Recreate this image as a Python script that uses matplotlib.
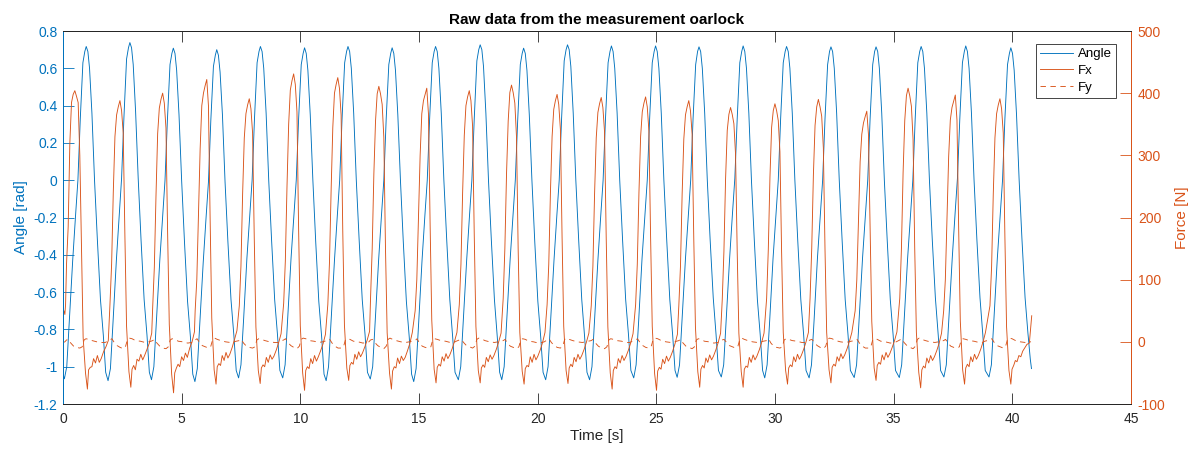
import matplotlib.pyplot as plt

plt.rcParams['font.family'] = ['Liberation Sans', 'DejaVu Sans']
plt.rcParams['axes.unicode_minus'] = False

BLUE = '#0072BD'
ORANGE = '#D95319'
DARK = '#262626'

# --- Angle [rad] ---
# peak time of every stroke, values read at angle_offsets (s) around that peak
angle_peak_t = [0.98, 2.82, 4.65, 6.48, 8.32, 10.18, 12.01, 13.87, 15.70, 17.58, 19.41,
                21.26, 23.11, 24.97, 26.80, 28.66, 30.49, 32.36, 34.26, 36.16, 38.04, 39.94]
angle_offsets = [-0.92, -0.82, -0.71, -0.57, -0.45, -0.35, -0.25, -0.14, -0.06, 0.0,
                 0.07, 0.14, 0.24, 0.35, 0.47, 0.60, 0.72, 0.82]
angle_rows = [
    [-1.065, -1.00, -0.75, -0.43, -0.19, 0.00, 0.33, 0.63, 0.69, 0.717, 0.69, 0.60, 0.36, 0.00, -0.32, -0.64, -0.83, -1.03],
    [-1.075, -1.01, -0.76, -0.43, -0.19, 0.01, 0.34, 0.65, 0.71, 0.738, 0.71, 0.62, 0.37, 0.01, -0.32, -0.64, -0.83, -1.03],
    [-1.070, -1.00, -0.75, -0.43, -0.20, 0.00, 0.32, 0.62, 0.68, 0.708, 0.68, 0.59, 0.35, 0.00, -0.33, -0.65, -0.84, -1.04],
    [-1.080, -1.01, -0.76, -0.44, -0.20, -0.01, 0.32, 0.61, 0.67, 0.700, 0.67, 0.58, 0.35, -0.01, -0.33, -0.64, -0.83, -1.02],
    [-1.060, -0.99, -0.75, -0.42, -0.19, 0.00, 0.33, 0.63, 0.69, 0.717, 0.69, 0.60, 0.36, 0.00, -0.32, -0.64, -0.83, -1.02],
    [-1.060, -0.99, -0.74, -0.42, -0.19, 0.00, 0.33, 0.62, 0.68, 0.710, 0.68, 0.59, 0.35, 0.00, -0.33, -0.65, -0.84, -1.04],
    [-1.075, -1.00, -0.75, -0.43, -0.19, 0.00, 0.33, 0.63, 0.69, 0.717, 0.69, 0.60, 0.36, 0.00, -0.32, -0.64, -0.83, -1.03],
    [-1.066, -1.00, -0.75, -0.43, -0.19, 0.00, 0.33, 0.62, 0.68, 0.710, 0.68, 0.59, 0.35, 0.00, -0.33, -0.65, -0.84, -1.04],
    [-1.080, -1.01, -0.76, -0.43, -0.19, 0.00, 0.33, 0.63, 0.69, 0.717, 0.69, 0.60, 0.36, 0.00, -0.32, -0.64, -0.84, -1.03],
    [-1.070, -1.00, -0.75, -0.43, -0.19, 0.00, 0.33, 0.64, 0.70, 0.726, 0.70, 0.61, 0.36, 0.00, -0.32, -0.64, -0.84, -1.03],
    [-1.070, -1.00, -0.75, -0.43, -0.20, 0.00, 0.32, 0.62, 0.68, 0.708, 0.68, 0.59, 0.35, 0.00, -0.33, -0.65, -0.84, -1.03],
    [-1.070, -1.00, -0.75, -0.43, -0.19, 0.00, 0.33, 0.64, 0.70, 0.726, 0.70, 0.61, 0.36, 0.00, -0.32, -0.64, -0.84, -1.03],
    [-1.070, -1.00, -0.75, -0.43, -0.19, 0.00, 0.33, 0.63, 0.69, 0.720, 0.69, 0.60, 0.36, 0.00, -0.32, -0.64, -0.83, -1.02],
    [-1.060, -0.99, -0.75, -0.42, -0.19, 0.00, 0.33, 0.63, 0.69, 0.720, 0.69, 0.60, 0.36, 0.00, -0.32, -0.64, -0.83, -1.02],
    [-1.057, -0.99, -0.74, -0.42, -0.19, 0.00, 0.33, 0.62, 0.69, 0.715, 0.69, 0.60, 0.36, 0.00, -0.32, -0.63, -0.83, -1.02],
    [-1.055, -0.99, -0.74, -0.42, -0.18, 0.01, 0.33, 0.63, 0.69, 0.720, 0.69, 0.60, 0.36, 0.00, -0.32, -0.64, -0.83, -1.02],
    [-1.060, -0.99, -0.75, -0.42, -0.19, 0.00, 0.33, 0.63, 0.69, 0.717, 0.69, 0.60, 0.36, 0.00, -0.32, -0.64, -0.83, -1.02],
    [-1.060, -0.99, -0.75, -0.42, -0.19, 0.00, 0.33, 0.62, 0.69, 0.715, 0.69, 0.60, 0.36, 0.00, -0.32, -0.64, -0.83, -1.02],
    [-1.058, -0.99, -0.74, -0.42, -0.19, 0.00, 0.33, 0.62, 0.69, 0.715, 0.69, 0.60, 0.36, 0.00, -0.32, -0.64, -0.83, -1.02],
    [-1.058, -0.99, -0.74, -0.42, -0.19, 0.00, 0.33, 0.63, 0.69, 0.717, 0.69, 0.60, 0.36, 0.00, -0.32, -0.63, -0.83, -1.02],
    [-1.055, -0.99, -0.74, -0.42, -0.18, 0.01, 0.33, 0.63, 0.69, 0.720, 0.69, 0.60, 0.36, 0.00, -0.32, -0.63, -0.83, -1.02],
    [-1.055, -0.99, -0.74, -0.42, -0.19, 0.00, 0.33, 0.62, 0.68, 0.710, 0.68, 0.59, 0.35, 0.00, -0.32, -0.63, -0.82, -0.96],
]
angle_head = [(0.0, -1.04)]
angle_tail = [(40.81, -1.01)]

# --- Fx [N] ---
# time of the force minimum of every stroke, values read at fx_offsets (s) around it
fx_min_t = [1.03, 2.86, 4.66, 6.45, 8.31, 10.18, 12.04, 13.84, 15.72, 17.58, 19.43,
            21.28, 23.14, 25.01, 26.83, 28.66, 30.53, 32.36, 34.26, 36.14, 37.99, 39.94]
fx_offsets = [-0.88, -0.81, -0.74, -0.67, -0.60, -0.53, -0.46, -0.39, -0.32, -0.25, -0.18, -0.08,
              0.0, 0.05, 0.12, 0.19, 0.26, 0.34, 0.42, 0.50, 0.58, 0.68, 0.78, 0.88]
fx_rows = [
    [125, 185, 320, 385, 398, 404, 395, 385, 300, 150, 7, -50, -76, -45, -41, -40, -27, -34, -22, -33, -27, -16, -8, 2],
    [60, 125, 240, 330, 365, 378, 388, 372, 335, 170, 25, -48, -73, -44, -38, -45, -28, -31, -20, -29, -22, -12, -2, 14],
    [55, 120, 235, 335, 376, 390, 400, 384, 344, 175, 28, -52, -82, -50, -42, -36, -40, -24, -30, -18, -25, -10, 0, 16],
    [50, 100, 205, 310, 380, 400, 412, 422, 380, 200, 38, -45, -68, -40, -35, -38, -22, -30, -17, -26, -20, -9, 4, 18],
    [58, 122, 238, 328, 367, 381, 391, 375, 336, 168, 24, -46, -67, -42, -37, -40, -25, -33, -21, -28, -23, -13, -1, 13],
    [62, 130, 250, 350, 405, 420, 431, 414, 370, 180, 26, -50, -78, -46, -40, -43, -27, -35, -22, -31, -24, -14, -3, 12],
    [60, 128, 245, 345, 400, 414, 425, 408, 365, 178, 27, -42, -62, -38, -33, -36, -20, -28, -16, -24, -18, -8, 3, 17],
    [70, 150, 270, 355, 399, 411, 399, 382, 329, 150, 15, -50, -76, -47, -40, -42, -26, -35, -23, -30, -25, -14, -2, 15],
    [50, 100, 200, 300, 367, 388, 398, 408, 367, 190, 35, -44, -66, -41, -36, -39, -24, -31, -19, -27, -21, -11, 1, 15],
    [60, 125, 240, 332, 380, 394, 404, 388, 347, 172, 25, -46, -66, -42, -37, -41, -25, -32, -21, -28, -22, -12, 0, 14],
    [70, 150, 270, 355, 401, 413, 401, 384, 330, 150, 15, -47, -68, -43, -38, -40, -24, -33, -20, -29, -23, -13, -1, 15],
    [60, 125, 240, 330, 374, 388, 398, 382, 342, 170, 25, -46, -67, -42, -36, -40, -25, -32, -20, -28, -22, -12, 0, 14],
    [58, 122, 238, 328, 369, 383, 393, 377, 338, 168, 24, -50, -76, -46, -40, -43, -27, -34, -22, -30, -24, -14, -2, 13],
    [60, 125, 240, 330, 370, 384, 394, 378, 339, 170, 25, -51, -78, -47, -41, -44, -28, -35, -23, -31, -25, -15, -3, 12],
    [58, 122, 238, 326, 365, 378, 388, 372, 334, 166, 24, -48, -73, -44, -38, -42, -26, -33, -21, -29, -23, -13, -1, 14],
    [68, 145, 262, 340, 366, 377, 366, 351, 302, 145, 14, -48, -73, -44, -39, -41, -25, -33, -21, -29, -23, -13, -1, 14],
    [70, 148, 265, 345, 372, 383, 372, 356, 306, 146, 15, -46, -68, -42, -37, -40, -24, -32, -20, -28, -22, -12, 0, 15],
    [70, 150, 268, 348, 378, 390, 378, 363, 312, 148, 15, -45, -66, -41, -36, -39, -24, -31, -19, -27, -21, -11, 1, 15],
    [50, 100, 198, 290, 334, 352, 362, 371, 334, 180, 33, -42, -62, -38, -33, -36, -21, -29, -17, -25, -19, -9, 2, 16],
    [70, 150, 272, 356, 396, 408, 396, 379, 326, 150, 15, -49, -74, -45, -39, -42, -26, -34, -22, -30, -24, -14, -2, 14],
    [50, 100, 200, 298, 357, 377, 387, 397, 357, 186, 34, -45, -68, -42, -36, -40, -24, -32, -20, -28, -22, -12, 0, 15],
    [58, 122, 238, 328, 367, 381, 391, 375, 336, 168, 24, -46, -68, -44, -38, -30, -32, -22, -24, -15, -10, -4, -2, 42],
]
fx_head = [(0.0, 40), (0.04, 50), (0.08, 44), (0.11, 60)]

# --- Fy [N] ---
fy_offsets = [-0.88, -0.80, -0.70, -0.58, -0.45, -0.32, -0.22, -0.14, -0.06, 0.05, 0.20, 0.40, 0.60, 0.75, 0.85]
fy_rows = [
    [3, 4, -2, -7, -9, -10, -8, 3, 5, 4, 2, 0, -1, -1, 1],
    [3, 5, -1, -6, -9, -11, -7, 4, 6, 5, 2, 1, -1, 0, 1],
    [2, 4, -2, -7, -10, -11, -8, 3, 5, 4, 1, 0, -2, -1, 0],
    [3, 5, -1, -6, -8, -10, -7, 4, 6, 4, 2, 0, -1, 0, 1],
    [2, 4, -2, -7, -9, -10, -8, 3, 5, 4, 2, 0, -1, -1, 1],
    [3, 5, -1, -6, -9, -11, -7, 4, 6, 5, 2, 1, -1, 0, 1],
    [2, 4, -2, -7, -10, -10, -8, 3, 5, 4, 1, 0, -2, -1, 0],
    [3, 4, -1, -6, -9, -11, -7, 4, 6, 4, 2, 0, -1, 0, 1],
    [2, 5, -2, -7, -9, -10, -8, 3, 5, 4, 2, 1, -1, -1, 1],
    [3, 4, -1, -6, -8, -10, -7, 4, 6, 5, 2, 0, -1, 0, 1],
    [2, 4, -2, -7, -9, -11, -8, 3, 5, 4, 1, 0, -2, -1, 0],
    [3, 5, -1, -6, -9, -10, -7, 4, 6, 4, 2, 0, -1, 0, 1],
    [2, 4, -2, -7, -10, -11, -8, 3, 5, 4, 2, 1, -1, -1, 1],
    [3, 5, -1, -6, -9, -10, -7, 4, 6, 5, 2, 0, -1, 0, 1],
    [2, 4, -2, -7, -9, -11, -8, 3, 5, 4, 1, 0, -2, -1, 0],
    [3, 4, -1, -6, -8, -10, -7, 4, 6, 4, 2, 0, -1, 0, 1],
    [2, 5, -2, -7, -9, -10, -8, 3, 5, 4, 2, 1, -1, -1, 1],
    [3, 4, -1, -6, -9, -11, -7, 4, 6, 5, 2, 0, -1, 0, 1],
    [2, 4, -2, -7, -10, -10, -8, 3, 5, 4, 1, 0, -2, -1, 0],
    [3, 5, -1, -6, -9, -11, -7, 4, 6, 4, 2, 0, -1, 0, 1],
    [2, 4, -2, -7, -9, -10, -8, 3, 5, 4, 2, 1, -1, -1, 1],
    [3, 5, -1, -6, -8, -10, -7, 4, 6, 5, 2, 0, -1, 0, 0],
]
fy_head = [(0.0, -1), (0.08, 0)]


def place(anchor_t, offsets, rows, head=(), tail=()):
    # put the read rows at their stroke times
    t = [p[0] for p in head]
    v = [p[1] for p in head]
    for a, row in zip(anchor_t, rows):
        t += [a + o for o in offsets]
        v += list(row)
    t += [p[0] for p in tail]
    v += [p[1] for p in tail]
    return t, v


angle_t, angle_v = place(angle_peak_t, angle_offsets, angle_rows, angle_head, angle_tail)
fx_t, fx_v = place(fx_min_t, fx_offsets, fx_rows, fx_head)
fy_t, fy_v = place(fx_min_t, fy_offsets, fy_rows, fy_head)

fig = plt.figure(figsize=(11.97, 4.5), dpi=100)
ax = fig.add_axes([0.0526, 0.1022, 0.8922, 0.8289])
ax2 = ax.twinx()

l1, = ax.plot(angle_t, angle_v, color=BLUE, lw=0.65, label='Angle')
l2, = ax2.plot(fx_t, fx_v, color=ORANGE, lw=0.65, label='Fx')
l3, = ax2.plot(fy_t, fy_v, color=ORANGE, lw=0.65, ls=(0, (6, 5)), label='Fy')

ax.set_xlim(0, 45)
ax.set_ylim(-1.2, 0.8)
ax2.set_ylim(-100, 500)
ax.set_xticks(range(0, 46, 5))
ax.set_yticks([-1.2, -1.0, -0.8, -0.6, -0.4, -0.2, 0, 0.2, 0.4, 0.6, 0.8])
ax.set_yticklabels(['-1.2', '-1', '-0.8', '-0.6', '-0.4', '-0.2', '0', '0.2', '0.4', '0.6', '0.8'])
ax2.set_yticks(range(-100, 501, 100))

for a in (ax, ax2):
    for s in ('top', 'bottom'):
        a.spines[s].set_color(DARK)
        a.spines[s].set_linewidth(0.7)
    a.spines['left'].set_color(BLUE)
    a.spines['right'].set_color(ORANGE)
    a.spines['left'].set_linewidth(0.7)
    a.spines['right'].set_linewidth(0.7)

ax.tick_params(axis='x', direction='in', length=7.7, width=0.6, color=DARK,
               labelcolor=DARK, labelsize=10, top=True, pad=6)
ax.tick_params(axis='y', direction='in', length=7.7, width=0.6, color=BLUE,
               labelcolor=BLUE, labelsize=10, pad=4)
ax2.tick_params(axis='y', direction='in', length=7.7, width=0.6, color=ORANGE,
                labelcolor=ORANGE, labelsize=10, pad=5)

ax.set_xlabel('Time [s]', fontsize=11, color=DARK, labelpad=2)
ax.set_ylabel('Angle [rad]', fontsize=11, color=BLUE, labelpad=4)
ax2.set_ylabel('Force [N]', fontsize=11, color=ORANGE, labelpad=7)
ax.set_title('Raw data from the measurement oarlock', fontsize=11, fontweight='bold',
             color='black', pad=5)

leg = ax2.legend(handles=[l1, l2, l3], loc='upper right', bbox_to_anchor=(0.986, 0.965),
                 borderaxespad=0, fontsize=9.5, handlelength=2.5, handletextpad=0.35,
                 labelspacing=0.35, borderpad=0.3, fancybox=False, framealpha=1)
leg.get_frame().set_edgecolor(DARK)
leg.get_frame().set_linewidth(0.6)

fig.savefig('out.png', dpi=100)
